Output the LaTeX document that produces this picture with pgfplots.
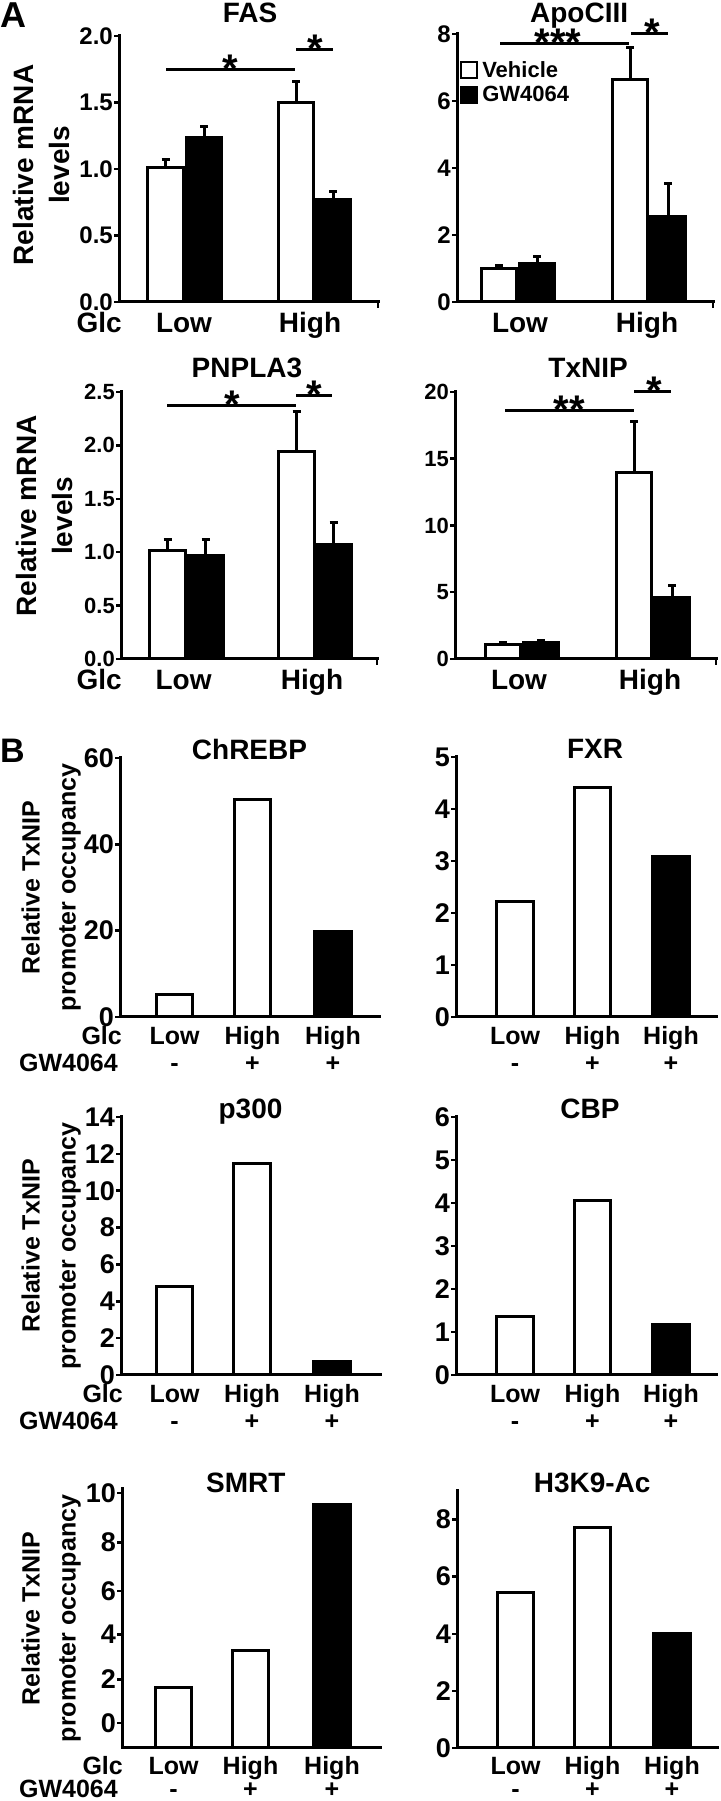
\documentclass[border=0pt]{standalone}
\usepackage{fontspec}
\setmainfont{Liberation Sans}
\usepackage{pgfplots}
\pgfplotsset{compat=1.18}
\newcommand\fs[2]{\fontsize{#1}{#2}\selectfont\bfseries}
\newcommand\sig[5]{\draw[line width=3pt] (axis cs:#1,#3) -- (axis cs:#2,#3);
  \node[font=\fs{40}{40}, anchor=base, inner sep=0pt, yshift=-13pt] at (axis cs:#4,#3) {#5};}
\pgfplotsset{
 pp/.style={
  scale only axis, clip=false, anchor=south west,
  axis x line*=bottom, axis y line*=left,
  axis line style={line width=3pt, line cap=rect, -},
  every outer x axis line/.append style={-},
  every outer y axis line/.append style={-},
  xmin=0, ymin=0,
  ybar,
  tick align=outside, major tick length=5pt,
  tick style={line width=2.5pt, black},
  xtick style={draw=none},
  /pgf/number format/assume math mode=true,
  yticklabel style={anchor=east, inner sep=1pt},
  xticklabel style={anchor=base, inner sep=0pt},
  every axis title shift=0pt,
  title style={anchor=base, inner sep=0pt},
  ylabel style={anchor=center, align=center},
 },
 W/.style={fill=white, draw=black, line width=3pt, bar shift=0pt},
 Bk/.style={fill=black, draw=black, line width=3pt, bar shift=0pt},
 EA/.style={error bars/y dir=plus, error bars/y explicit,
   error bars/error bar style={line width=3pt, black},
   error bars/error mark options={rotate=90, mark size=4pt, line width=3pt, black}},
 fA/.style={/pgf/number format/fixed, /pgf/number format/fixed zerofill, /pgf/number format/precision=1},
 Bpanel/.style={pp, bar width=36.5,
   yticklabel style={font=\fs{27}{30}},
   xticklabels={Low,High,High}, xticklabel style={font=\fs{25}{30}, yshift=-23pt},
   extra x tick labels={-,+,+},
   extra x tick style={tick style={draw=none}, xticklabel style={yshift=-27pt}},
   title style={font=\fs{28}{34}, yshift=-2pt},
   ylabel style={font=\fs{25}{36}}},
}
\begin{document}
\begin{tikzpicture}
\path[use as bounding box] (0pt,0pt) rectangle (720pt,1801pt);
\node[anchor=base west, inner sep=0pt, font=\fs{36}{40}] at (0pt,1773pt) {A};
\node[anchor=base west, inner sep=0pt, font=\fs{34}{40}] at (0pt,1038pt) {B};
% ---------------- FAS
\begin{axis}[pp, at={(119pt,1499pt)}, width=259pt, height=266pt,
 xmax=259, ymax=2, bar width=35.5,
 ytick={0,0.5,1,1.5,2}, yticklabel style={font=\fs{24}{28}, fA},
 xtick={65,191}, xticklabels={Low,High}, xticklabel style={font=\fs{28}{34}, yshift=-26pt},
 title={FAS}, title style={at={(axis description cs:0.506,1)}, yshift=13pt, font=\fs{28}{34}},
 ylabel={Relative mRNA\\levels}, ylabel style={at={(axis description cs:-0.30,0.515)}, font=\fs{28}{36}}]
\addplot[W,EA] coordinates {(46.5,1.01) +- (0,0.06) (177,1.50) +- (0,0.16)};
\addplot[Bk,EA] coordinates {(85,1.24) +- (0,0.08) (214,0.77) +- (0,0.06)};
\sig{47}{176}{1.75}{111}{*}
\sig{177}{214}{1.90}{196}{*}
\draw[line width=2.5pt] (axis cs:259,0) -- ++(0pt,-6pt);
\end{axis}
% ---------------- ApoCIII
\begin{axis}[pp, at={(457pt,1499pt)}, width=256pt, height=268pt,
 xmax=256, ymax=8, bar width=35.5,
 ytick={0,2,4,6,8}, yticklabel style={font=\fs{24}{28}},
 xtick={63,190}, xticklabels={Low,High}, xticklabel style={font=\fs{28}{34}, yshift=-26pt},
 title={ApoCIII}, title style={at={(axis description cs:0.477,1)}, yshift=11pt, font=\fs{28}{34}},
 legend image code/.code={\draw[#1, line width=2pt] (0pt,-8pt) rectangle (16pt,8pt);},
 legend style={at={(axis description cs:0.012,0.905)}, anchor=north west, draw=none, fill=none,
   inner sep=0pt, font=\fs{22}{24}, row sep=3pt, column sep=2pt, cells={anchor=west}}]
\addlegendimage{fill=white, draw=black}\addlegendentry{Vehicle}
\addlegendimage{fill=black, draw=black}\addlegendentry{GW4064}
\addplot[W,EA] coordinates {(42,1.0) +- (0,0.1) (173,6.65) +- (0,0.95)};
\addplot[Bk,EA] coordinates {(80,1.15) +- (0,0.2) (211,2.55) +- (0,1.0)};
\sig{43}{172}{7.73}{101}{***}
\sig{174}{211}{8.0}{195}{*}
\draw[line width=2.5pt] (axis cs:256,0) -- ++(0pt,-6pt);
\end{axis}
\node[anchor=base east, inner sep=0pt, font=\fs{28}{34}] at (122pt,1468pt) {Glc};
% ---------------- PNPLA3
\begin{axis}[pp, at={(121pt,1142pt)}, width=256pt, height=267pt,
 xmax=256, ymax=2.5, bar width=35.5,
 ytick={0,0.5,1,1.5,2,2.5}, yticklabel style={font=\fs{22}{26}, fA},
 xtick={62.6,191}, xticklabels={Low,High}, xticklabel style={font=\fs{28}{34}, yshift=-26pt},
 title={PNPLA3}, title style={at={(axis description cs:0.492,1)}, yshift=14pt, font=\fs{28}{34}},
 ylabel={Relative mRNA\\levels}, ylabel style={at={(axis description cs:-0.299,0.536)}, font=\fs{28}{36}}]
\addplot[W,EA] coordinates {(46.5,1.02) +- (0,0.10) (175.5,1.94) +- (0,0.38)};
\addplot[Bk,EA] coordinates {(84.5,0.97) +- (0,0.15) (212.5,1.07) +- (0,0.21)};
\sig{46}{175}{2.375}{111}{*}
\sig{175}{211}{2.47}{193}{*}
\draw[line width=2.5pt] (axis cs:256,0) -- ++(0pt,-6pt);
\end{axis}
% ---------------- TxNIP
\begin{axis}[pp, at={(455pt,1142pt)}, width=261pt, height=267pt,
 xmax=261, ymax=20, bar width=35.5,
 ytick={0,5,10,15,20}, yticklabel style={font=\fs{22}{26}},
 xtick={64,195}, xticklabels={Low,High}, xticklabel style={font=\fs{28}{34}, yshift=-26pt},
 title={TxNIP}, title style={at={(axis description cs:0.51,1)}, yshift=14pt, font=\fs{28}{34}}]
\addplot[W,EA] coordinates {(48,1.05) +- (0,0.15) (179,14.0) +- (0,3.8)};
\addplot[Bk,EA] coordinates {(86,1.2) +- (0,0.2) (217,4.57) +- (0,0.95)};
\sig{50}{179}{18.6}{114}{**}
\sig{179}{216}{20.0}{199}{*}
\draw[line width=2.5pt] (axis cs:261,0) -- ++(0pt,-6pt);
\end{axis}
\node[anchor=base east, inner sep=0pt, font=\fs{28}{34}] at (122pt,1111pt) {Glc};
% ---------------- ChREBP
\begin{axis}[Bpanel, at={(120pt,784pt)}, width=259pt, height=259pt,
 xmax=259, ymax=60, ytick={0,20,40,60},
 xtick={54.5,132.5,213}, extra x ticks={54.5,132.5,213},
 title={ChREBP}, title style={at={(axis description cs:0.50,1)}},
 ylabel={Relative TxNIP\\promoter occupancy}, ylabel style={at={(axis description cs:-0.266,0.5)}}]
\addplot[W] coordinates {(54.5,5.2) (132.5,50.4)};
\addplot[Bk] coordinates {(213,19.8)};
\end{axis}
% ---------------- FXR
\begin{axis}[Bpanel, at={(456pt,784pt)}, width=260pt, height=260pt,
 xmax=260, ymax=5, ytick={0,1,2,3,4,5},
 xtick={59,136.5,215}, extra x ticks={59,136.5,215},
 title={FXR}, title style={at={(axis description cs:0.535,1)}}]
\addplot[W] coordinates {(59,2.22) (136.5,4.42)};
\addplot[Bk] coordinates {(215,3.08)};
\end{axis}
\node[anchor=base east, inner sep=0pt, font=\fs{25}{30}] at (122pt,756pt) {Glc};
\node[anchor=base east, inner sep=0pt, font=\fs{25}{30}] at (118pt,729pt) {GW4064};
% ---------------- p300
\begin{axis}[Bpanel, at={(121pt,426pt)}, width=259pt, height=258pt,
 xmax=259, ymax=14, ytick={0,2,4,6,8,10,12,14},
 xtick={53.5,131,211}, extra x ticks={53.5,131,211},
 title={p300}, title style={at={(axis description cs:0.50,1)}},
 ylabel={Relative TxNIP\\promoter occupancy}, ylabel style={at={(axis description cs:-0.27,0.5)}}]
\addplot[W] coordinates {(53.5,4.79) (131,11.47)};
\addplot[Bk] coordinates {(211,0.72)};
\end{axis}
% ---------------- CBP
\begin{axis}[Bpanel, at={(456pt,426pt)}, width=260pt, height=258pt,
 xmax=260, ymax=6, ytick={0,1,2,3,4,5,6},
 xtick={59,136.5,215}, extra x ticks={59,136.5,215},
 title={CBP}, title style={at={(axis description cs:0.515,1)}}]
\addplot[W] coordinates {(59,1.35) (136.5,4.06)};
\addplot[Bk] coordinates {(215,1.18)};
\end{axis}
\node[anchor=base east, inner sep=0pt, font=\fs{25}{30}] at (123pt,398pt) {Glc};
\node[anchor=base east, inner sep=0pt, font=\fs{25}{30}] at (118pt,371pt) {GW4064};
% ---------------- SMRT
\begin{axis}[Bpanel, at={(122pt,53pt)}, width=258pt, height=259pt,
 xmax=258, ymax=10, ytick={0.97,2.65,4.39,6.06,7.94,9.85}, yticklabels={0,2,4,6,8,10},
 xtick={51.5,128.5,210}, extra x ticks={51.5,128.5,210},
 xticklabel style={yshift=2pt}, extra x tick style={xticklabel style={yshift=4pt}},
 title={SMRT}, title style={at={(axis description cs:0.48,1)}, yshift=-2pt},
 ylabel={Relative TxNIP\\promoter occupancy}, ylabel style={at={(axis description cs:-0.275,0.5)}}]
\addplot[W] coordinates {(51.5,2.32) (128.5,3.77)};
\addplot[Bk] coordinates {(210,9.42)};
\end{axis}
% ---------------- H3K9-Ac
\begin{axis}[Bpanel, at={(457pt,53pt)}, width=260pt, height=257pt,
 xmax=260, ymax=9, ytick={0,2,4,6,8},
 xtick={58.5,135.5,215}, extra x ticks={58.5,135.5,215},
 xticklabel style={yshift=2pt}, extra x tick style={xticklabel style={yshift=4pt}},
 title={H3K9-Ac}, title style={at={(axis description cs:0.52,1)}}]
\addplot[W] coordinates {(58.5,5.45) (135.5,7.71)};
\addplot[Bk] coordinates {(215,4.02)};
\end{axis}
\node[anchor=base east, inner sep=0pt, font=\fs{25}{30}] at (123pt,27pt) {Glc};
\node[anchor=base east, inner sep=0pt, font=\fs{25}{30}] at (118pt,4pt) {GW4064};
\end{tikzpicture}
\end{document}
